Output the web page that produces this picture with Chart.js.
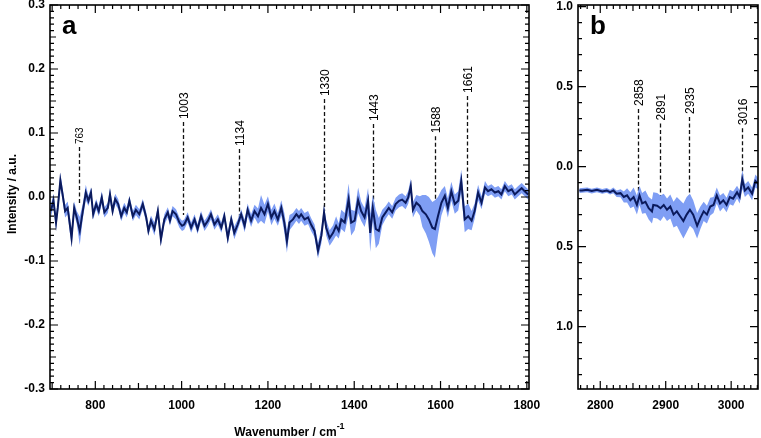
<!DOCTYPE html>
<html>
<head>
<meta charset="utf-8">
<script src="https://cdn.jsdelivr.net/npm/chart.js@4.4.1/dist/chart.umd.min.js"></script>
<style>
  html, body { margin: 0; padding: 0; background: #fff; }
  #wrap { position: relative; width: 761px; height: 438px; overflow: hidden; }
  canvas { position: absolute; top: 0; }
  #chartA { left: 0; }
  #chartB { left: 545px; }
</style>
</head>
<body>
<div id="wrap">
  <canvas id="chartA" width="540" height="438"></canvas>
  <canvas id="chartB" width="216" height="438"></canvas>
</div>
<script>
// ---- panel a: fingerprint region ----
const aX = [
  697, 703, 709, 713, 719, 724, 730, 736, 745, 751,
  757, 764, 771, 778, 784, 790, 795, 802, 808, 815,
  821, 829, 834, 840, 846, 853, 860, 867, 873, 879,
  887, 894, 902, 910, 918, 923, 929, 937, 945, 952,
  960, 968, 973, 979, 987, 995, 1001, 1006, 1014, 1022,
  1030, 1037, 1045, 1053, 1061, 1068, 1076, 1084, 1092, 1099,
  1107, 1115, 1122, 1130, 1138, 1146, 1153, 1161, 1169, 1177,
  1184, 1192, 1200, 1208, 1215, 1223, 1231, 1238, 1244, 1250,
  1258, 1266, 1272, 1277, 1285, 1293, 1300, 1308, 1316, 1324,
  1330, 1335, 1343, 1351, 1358, 1364, 1370, 1378, 1387, 1393,
  1401, 1409, 1416, 1424, 1432, 1437, 1443, 1450, 1457, 1465,
  1473, 1480, 1488, 1496, 1504, 1511, 1519, 1525, 1531, 1536,
  1544, 1552, 1558, 1566, 1573, 1581, 1587, 1594, 1602, 1610,
  1617, 1625, 1633, 1641, 1648, 1656, 1664, 1672, 1679, 1687,
  1695, 1703, 1710, 1718, 1726, 1734, 1741, 1749, 1757, 1765,
  1772, 1780, 1788, 1795, 1803
];
const aMean = [
  -0.022, -0.005, -0.040, -0.017, 0.026, 0.005, -0.022, -0.017, -0.064, -0.017,
  -0.032, -0.053, -0.022, 0.007, -0.006, 0.007, -0.027, -0.011, -0.022, -0.001,
  -0.024, -0.017, 0.004, -0.022, -0.003, -0.011, -0.030, -0.017, -0.024, -0.006,
  -0.030, -0.020, -0.027, -0.011, -0.032, -0.053, -0.037, -0.050, -0.022, -0.066,
  -0.035, -0.024, -0.037, -0.022, -0.027, -0.040, -0.045, -0.043, -0.032, -0.048,
  -0.035, -0.050, -0.030, -0.045, -0.037, -0.027, -0.043, -0.035, -0.048, -0.030,
  -0.064, -0.035, -0.056, -0.043, -0.027, -0.045, -0.020, -0.037, -0.022, -0.030,
  -0.017, -0.027, -0.011, -0.032, -0.022, -0.035, -0.017, -0.040, -0.069, -0.040,
  -0.035, -0.027, -0.032, -0.027, -0.035, -0.032, -0.043, -0.053, -0.084, -0.060,
  -0.024, -0.048, -0.064, -0.056, -0.045, -0.053, -0.035, -0.040, -0.004, -0.040,
  -0.037, -0.005, -0.022, -0.032, -0.006, -0.056, -0.017, -0.050, -0.053, -0.032,
  -0.024, -0.017, -0.024, -0.011, -0.006, -0.004, -0.009, -0.001, 0.017, -0.020,
  -0.009, -0.014, -0.022, -0.027, -0.035, -0.048, -0.050, -0.030, -0.009, 0.002,
  -0.017, 0.009, -0.011, -0.006, 0.025, -0.035, -0.030, -0.037, -0.022, 0.007,
  -0.009, 0.015, 0.009, 0.012, 0.007, 0.009, 0.004, 0.017, 0.009, 0.012,
  0.004, 0.009, 0.014, 0.009, 0.004
];
const aSpread = [
  0.010, 0.010, 0.012, 0.010, 0.012, 0.010, 0.010, 0.010, 0.015, 0.010,
  0.010, 0.022, 0.012, 0.012, 0.008, 0.008, 0.008, 0.008, 0.008, 0.010,
  0.008, 0.008, 0.010, 0.008, 0.008, 0.008, 0.008, 0.008, 0.008, 0.008,
  0.008, 0.008, 0.008, 0.008, 0.008, 0.008, 0.008, 0.010, 0.008, 0.010,
  0.008, 0.008, 0.008, 0.008, 0.008, 0.008, 0.008, 0.008, 0.008, 0.008,
  0.008, 0.008, 0.008, 0.008, 0.008, 0.008, 0.008, 0.008, 0.008, 0.008,
  0.010, 0.008, 0.010, 0.008, 0.008, 0.010, 0.010, 0.010, 0.010, 0.012,
  0.020, 0.015, 0.012, 0.012, 0.012, 0.010, 0.012, 0.015, 0.018, 0.012,
  0.010, 0.010, 0.010, 0.010, 0.010, 0.010, 0.010, 0.010, 0.012, 0.012,
  0.010, 0.012, 0.012, 0.012, 0.015, 0.012, 0.015, 0.015, 0.025, 0.020,
  0.015, 0.020, 0.015, 0.015, 0.020, 0.030, 0.020, 0.030, 0.020, 0.012,
  0.010, 0.010, 0.010, 0.010, 0.010, 0.010, 0.010, 0.010, 0.012, 0.012,
  0.012, 0.015, 0.025, 0.030, 0.035, 0.040, 0.045, 0.030, 0.020, 0.015,
  0.015, 0.015, 0.015, 0.015, 0.018, 0.020, 0.020, 0.015, 0.012, 0.012,
  0.010, 0.010, 0.008, 0.008, 0.008, 0.008, 0.008, 0.008, 0.008, 0.008,
  0.008, 0.008, 0.008, 0.008, 0.008
];
const aXTicks = [800, 1000, 1200, 1400, 1600, 1800];
const aYTicks = [-0.3, -0.2, -0.1, 0, 0.1, 0.2, 0.3];
const aPeaks = [763, 1003, 1134, 1330, 1443, 1588, 1661];
const aPeakTop = [0.078, 0.117, 0.075, 0.153, 0.114, 0.095, 0.158];
const aPeakEnd = [-0.012, -0.028, -0.035, -0.022, -0.017, -0.017, -0.017];

// ---- panel b: CH stretch region ----
const bX = [
  2768, 2772, 2780, 2787, 2795, 2803, 2810, 2815, 2820, 2825,
  2831, 2836, 2841, 2846, 2851, 2856, 2860, 2864, 2869, 2874,
  2879, 2881, 2887, 2892, 2897, 2902, 2907, 2912, 2917, 2922,
  2927, 2932, 2937, 2942, 2948, 2953, 2958, 2963, 2968, 2973,
  2978, 2983, 2988, 2993, 2998, 3003, 3009, 3013, 3017, 3021,
  3026, 3032, 3037, 3042
];
const bMean = [
  -0.150, -0.149, -0.145, -0.153, -0.145, -0.155, -0.149, -0.159, -0.149, -0.170,
  -0.166, -0.190, -0.180, -0.210, -0.190, -0.240, -0.180, -0.230, -0.220, -0.260,
  -0.280, -0.240, -0.245, -0.260, -0.240, -0.270, -0.250, -0.300, -0.280, -0.310,
  -0.340, -0.300, -0.270, -0.300, -0.370, -0.320, -0.280, -0.300, -0.250, -0.240,
  -0.180, -0.230, -0.210, -0.240, -0.190, -0.200, -0.160, -0.190, -0.080, -0.150,
  -0.130, -0.170, -0.090, -0.110
];
const bSpread = [
  0.015, 0.015, 0.015, 0.015, 0.015, 0.015, 0.015, 0.015, 0.018, 0.020,
  0.025, 0.035, 0.045, 0.050, 0.060, 0.060, 0.060, 0.065, 0.070, 0.070,
  0.075, 0.080, 0.080, 0.080, 0.070, 0.070, 0.075, 0.080, 0.090, 0.100,
  0.110, 0.110, 0.100, 0.090, 0.080, 0.070, 0.060, 0.055, 0.055, 0.050,
  0.050, 0.050, 0.045, 0.045, 0.045, 0.045, 0.040, 0.040, 0.060, 0.040,
  0.040, 0.040, 0.040, 0.035
];
const bXTicks = [2800, 2900, 3000];
const bYTicks = [-1.0, -0.5, 0, 0.5, 1.0];
const bPeaks = [2858, 2891, 2935, 3016];
const bPeakTop = [0.36, 0.27, 0.31, 0.24];
const bPeakEnd = [-0.19, -0.21, -0.26, -0.075];

const FONT = "'Liberation Sans', Arial, Helvetica, sans-serif";
const LINE = '#0b1a5c';
const BAND = '#7f9ef4';

function seriesSets(xs, mean, spread) {
  return [
    { data: xs.map((x, i) => ({ x, y: mean[i] })), borderColor: LINE, borderWidth: 2, pointRadius: 0, fill: false },
    { data: xs.map((x, i) => ({ x, y: mean[i] + spread[i] })), borderWidth: 0, borderColor: 'transparent', pointRadius: 0, fill: false },
    { data: xs.map((x, i) => ({ x, y: mean[i] - spread[i] })), borderWidth: 0, borderColor: 'transparent', pointRadius: 0, fill: '-1', backgroundColor: BAND },
  ];
}

// frame plus inward ticks on all four sides
function framePlugin(t) {
  return {
    id: 'frame',
    afterDraw(chart) {
      const { ctx, chartArea: a, scales: { x, y } } = chart;
      ctx.save();
      ctx.strokeStyle = '#000';
      ctx.lineWidth = 1.2;
      const marks = (scale, step, mid, major, horiz) => {
        const every = Math.round(major / step);
        const midEvery = mid ? Math.round(mid / step) : 0;
        const n0 = Math.ceil(scale.min / step - 1e-6);
        const n1 = Math.floor(scale.max / step + 1e-6);
        ctx.beginPath();
        for (let i = n0; i <= n1; i++) {
          const len = i % every === 0 ? 8 : (midEvery && i % midEvery === 0 ? 6 : 4);
          const p = scale.getPixelForValue(i * step);
          if (horiz) {
            ctx.moveTo(p, a.bottom); ctx.lineTo(p, a.bottom - len);
            ctx.moveTo(p, a.top); ctx.lineTo(p, a.top + len);
          } else {
            ctx.moveTo(a.left, p); ctx.lineTo(a.left + len, p);
            ctx.moveTo(a.right, p); ctx.lineTo(a.right - len, p);
          }
        }
        ctx.stroke();
      };
      marks(x, t.xStep, t.xMid, t.xMajor, true);
      marks(y, t.yStep, t.yMid, t.yMajor, false);
      ctx.lineWidth = 1.6;
      ctx.strokeRect(a.left, a.top, a.right - a.left, a.bottom - a.top);
      ctx.restore();
    }
  };
}

// dashed markers with rotated wavenumber labels
function peakPlugin(peaks, tops, ends) {
  return {
    id: 'peaks',
    beforeDatasetsDraw(chart) {
      const { ctx, scales: { x, y } } = chart;
      ctx.save();
      ctx.strokeStyle = '#111';
      ctx.lineWidth = 1.3;
      ctx.setLineDash([4, 2.5]);
      peaks.forEach((p, i) => {
        const px = Math.round(x.getPixelForValue(p)) + 0.5;
        const top = y.getPixelForValue(tops[i]);
        ctx.beginPath();
        ctx.moveTo(px, top);
        ctx.lineTo(px, y.getPixelForValue(ends[i]));
        ctx.stroke();
        const label = String(p);
        ctx.save();
        ctx.translate(px + 1, top - 3);
        ctx.rotate(-Math.PI / 2);
        ctx.fillStyle = '#000';
        ctx.font = (label.length < 4 ? 10 : 12) + 'px ' + FONT;
        ctx.textAlign = 'left';
        ctx.textBaseline = 'middle';
        ctx.fillText(label, 0, 0);
        ctx.restore();
      });
      ctx.restore();
    }
  };
}

function textPlugin(letter, withTitles) {
  return {
    id: 'texts',
    afterDraw(chart) {
      const { ctx, chartArea: a } = chart;
      ctx.save();
      ctx.fillStyle = '#000';
      ctx.font = 'bold 26px ' + FONT;
      ctx.textBaseline = 'alphabetic';
      ctx.textAlign = 'left';
      ctx.fillText(letter, a.left + 12, 34);
      if (withTitles) {
        ctx.font = 'bold 12px ' + FONT;
        ctx.save();
        ctx.translate(16, 194);
        ctx.rotate(-Math.PI / 2);
        ctx.textAlign = 'center';
        ctx.fillText('Intensity / a.u.', 0, 0);
        ctx.restore();
        const main = 'Wavenumber / cm';
        const w = ctx.measureText(main).width;
        const x0 = (a.left + a.right) / 2 - (w + 8) / 2;
        ctx.fillText(main, x0, 436);
        ctx.font = 'bold 9px ' + FONT;
        ctx.fillText('-1', x0 + w, 429);
      }
      ctx.restore();
    }
  };
}

function axisOpts(min, max, ticks, fmt, pad, fitFn) {
  return {
    type: 'linear', min, max,
    grid: { display: false, drawTicks: false },
    border: { display: false },
    afterBuildTicks: s => { s.ticks = ticks.map(v => ({ value: v })); },
    ticks: {
      autoSkip: false, maxRotation: 0, padding: pad, color: '#000',
      font: { family: FONT, size: 12, weight: 'bold' },
      callback: fmt
    },
    afterFit: fitFn
  };
}

function makeChart(id, sets, xs, ys, pad, plugins) {
  return new Chart(document.getElementById(id), {
    type: 'line',
    data: { datasets: sets },
    options: {
      responsive: false,
      animation: false,
      layout: { padding: pad },
      plugins: { legend: { display: false }, tooltip: { enabled: false } },
      elements: { line: { tension: 0 } },
      scales: { x: xs, y: ys }
    },
    plugins
  });
}

const fitX = s => { s.height = 49; s.paddingLeft = 0; s.paddingRight = 0; };

makeChart('chartA',
  seriesSets(aX, aMean, aSpread),
  axisOpts(695, 1805, aXTicks, v => String(v), 9, fitX),
  axisOpts(-0.3, 0.3, aYTicks, v => v.toFixed(1), 5,
    s => { s.width = 50; s.paddingTop = 0; s.paddingBottom = 0; }),
  { top: 5, right: 11, left: 0, bottom: 0 },
  [peakPlugin(aPeaks, aPeakTop, aPeakEnd),
   framePlugin({ xStep: 20, xMid: 100, xMajor: 200, yStep: 0.01, yMid: 0.05, yMajor: 0.1 }),
   textPlugin('a', true)]
);

makeChart('chartB',
  seriesSets(bX, bMean, bSpread),
  axisOpts(2766, 3041, bXTicks, v => String(v), 9, fitX),
  axisOpts(-1.39, 1.01, bYTicks, v => Math.abs(v).toFixed(1), 5,
    s => { s.width = 33; s.paddingTop = 0; s.paddingBottom = 0; }),
  { top: 5, right: 3, left: 0, bottom: 0 },
  [peakPlugin(bPeaks, bPeakTop, bPeakEnd),
   framePlugin({ xStep: 10, xMid: 50, xMajor: 100, yStep: 0.1, yMid: 0, yMajor: 0.5 }),
   textPlugin('b', false)]
);
</script>
</body>
</html>
